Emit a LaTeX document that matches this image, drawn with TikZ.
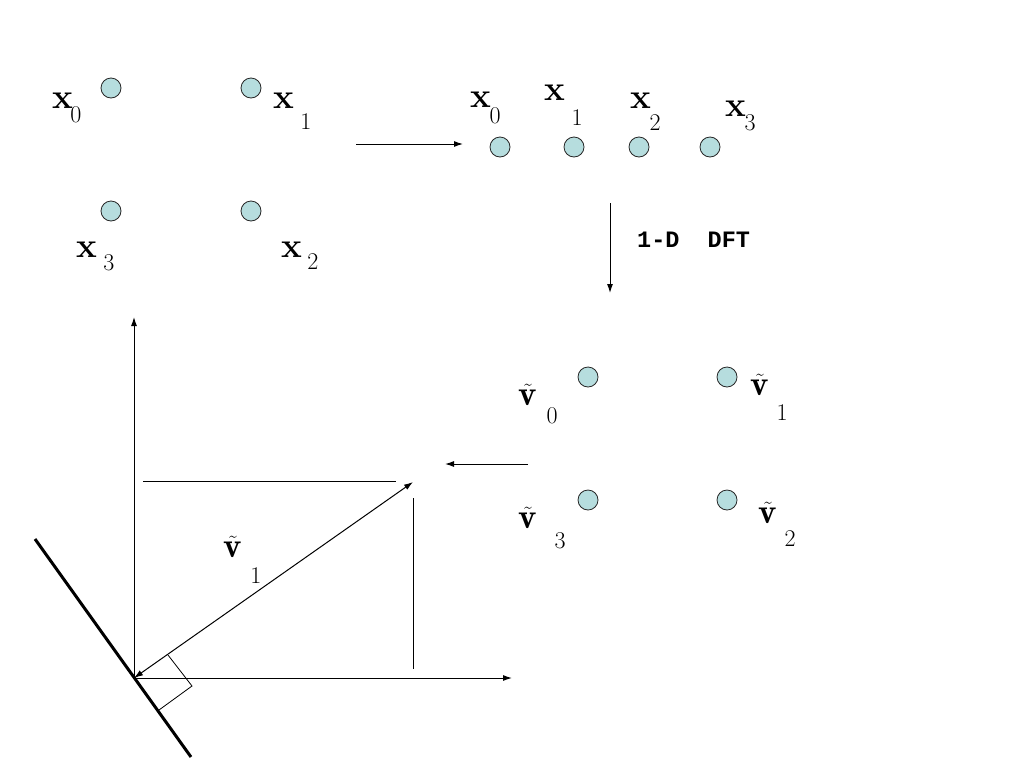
\documentclass[tikz,border=0pt]{standalone}
\usepackage{fontspec}
\newfontfamily\monofont{Liberation Mono}
\usetikzlibrary{arrows.meta}
\definecolor{dotfill}{RGB}{182,221,222}
\tikzset{
  dot/.style={circle,draw=black!85,line width=0.8pt,fill=dotfill,minimum size=20pt,inner sep=0pt},
  lbl/.style={anchor=base,inner sep=0pt,font=\fontsize{35}{35}\selectfont\bfseries},
  sub/.style={anchor=base,inner sep=0pt,font=\fontsize{24}{24}\selectfont},
  arr/.style={line width=1pt,-{Latex[length=9pt,width=6pt]}},
  thin/.style={line width=1pt},
}
\begin{document}
\begin{tikzpicture}[x=1pt,y=-1pt]
\useasboundingbox[fill=white] (0,0) rectangle (1024,782);
% top-left square of points
\node[dot] (a0) at (111,88) {};
\node[dot] (a1) at (251,88) {};
\node[dot] (a2) at (251,211) {};
\node[dot] (a3) at (111,211) {};
\node[lbl] (la0) at (63,108) {x};  \node[sub] (sa0) at (76,122) {0};
\node[lbl] (la1) at (284,108) {x}; \node[sub] (sa1) at (306,129) {1};
\node[lbl] (la3) at (87,257) {x};  \node[sub] (sa3) at (109,270) {3};
\node[lbl] (la2) at (292,257) {x}; \node[sub] (sa2) at (313,269) {2};
% arrow to row
\coordinate (r1s) at (356,144); \coordinate (r1e) at (463,144);
\draw[arr] (r1s) -- (r1e);
% row of points
\node[dot] (b0) at (500,147) {};
\node[dot] (b1) at (574,147) {};
\node[dot] (b2) at (639,147) {};
\node[dot] (b3) at (710,147) {};
\node[lbl] (lb0) at (481,107) {x}; \node[sub] (sb0) at (495,123) {0};
\node[lbl] (lb1) at (555,100) {x}; \node[sub] (sb1) at (577,125) {1};
\node[lbl] (lb2) at (641,108) {x}; \node[sub] (sb2) at (655,130) {2};
\node[lbl] (lb3) at (736,116) {x}; \node[sub] (sb3) at (750,130) {3};
% DFT arrow
\coordinate (d1s) at (610,203); \coordinate (d1e) at (610,293);
\draw[arr] (d1s) -- (d1e);
\node[anchor=base west,inner sep=0pt,font=\monofont\bfseries\fontsize{23.5}{24}\selectfont] (dft) at (637,247) {1-D\ \ DFT};
% bottom-right square of points
\node[dot] (c0) at (588,377) {};
\node[dot] (c1) at (727,377) {};
\node[dot] (c2) at (727,500) {};
\node[dot] (c3) at (588,500) {};
\node[lbl] (lc0) at (528,405) {$\tilde{\mathbf{v}}$}; \node[sub] (sc0) at (552,423) {0};
\node[lbl] (lc1) at (760,395) {$\tilde{\mathbf{v}}$}; \node[sub] (sc1) at (782,420) {1};
\node[lbl] (lc3) at (528,528) {$\tilde{\mathbf{v}}$}; \node[sub] (sc3) at (560,548) {3};
\node[lbl] (lc2) at (768,523) {$\tilde{\mathbf{v}}$}; \node[sub] (sc2) at (790,546) {2};
% left arrow
\coordinate (l1s) at (528,464); \coordinate (l1e) at (445,464);
\draw[arr] (l1s) -- (l1e);
% coordinate plot
\coordinate (O) at (134,678);
\coordinate (Ytop) at (134,317);
\coordinate (Xend) at (512,678);
\coordinate (V) at (413,482);
\draw[arr] (O) -- (Ytop);
\draw[arr] (O) -- (Xend);
\draw[thin,{Latex[length=9pt,width=6pt]}-{Latex[length=9pt,width=6pt]}] (O) -- (V);
\coordinate (h1) at (143,481); \coordinate (h2) at (396,481);
\draw[thin] (h1) -- (h2);
\coordinate (w1) at (413,498); \coordinate (w2) at (413,669);
\draw[thin] (w1) -- (w2);
\coordinate (t1) at (35,539); \coordinate (t2) at (191,757);
\draw[line width=3pt] (t1) -- (t2);
\coordinate (q1) at (168,655); \coordinate (q2) at (192,686); \coordinate (q3) at (159,710);
\draw[line width=0.8pt] (q1) -- (q2) -- (q3);
\node[lbl] (lv) at (233,557) {$\tilde{\mathbf{v}}$}; \node[sub] (sv) at (256,583) {1};
\end{tikzpicture}
\end{document}
